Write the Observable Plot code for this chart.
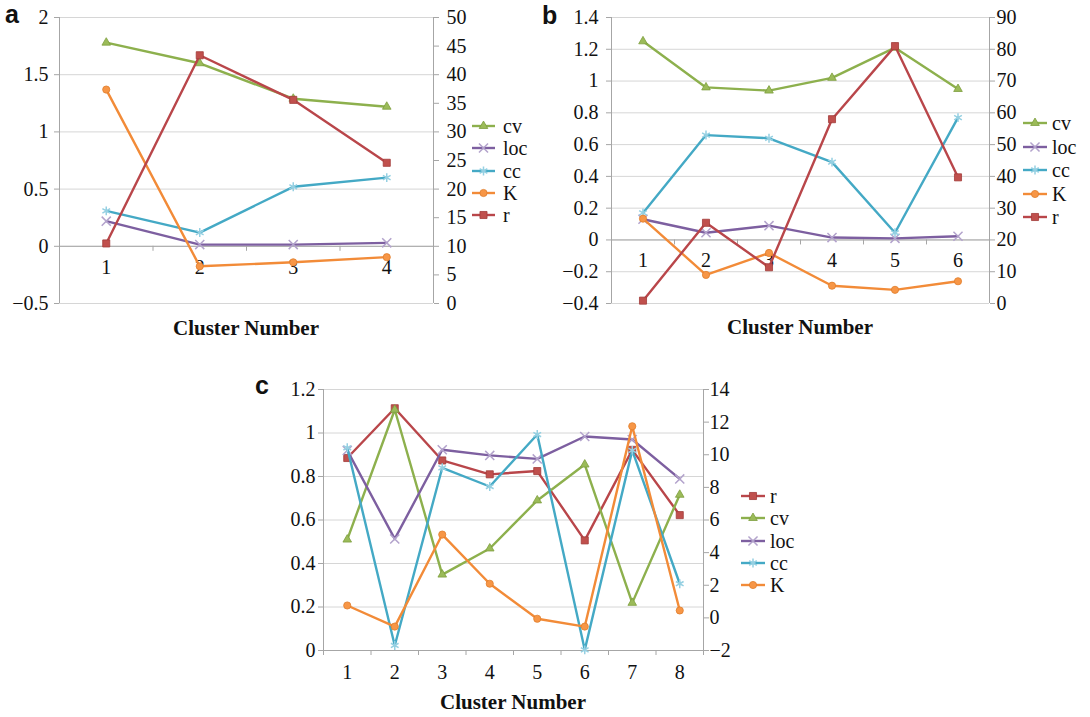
<!DOCTYPE html>
<html><head><meta charset="utf-8">
<script src="https://cdn.jsdelivr.net/npm/d3@7"></script>
<script src="https://cdn.jsdelivr.net/npm/@observablehq/plot@0.6"></script>
<style>
body{margin:0;background:#fff;}
#root{position:relative;width:1090px;height:717px;overflow:hidden;font-family:"Liberation Serif","Times New Roman",serif;color:#111;}
#root svg, #root svg text{font-family:"Liberation Serif","Times New Roman",serif !important;}
.panel{position:absolute;}
.letter{position:absolute;font-family:"Liberation Sans",Arial,sans-serif;font-weight:bold;font-size:25px;line-height:1;}
.xlabel{position:absolute;font-weight:bold;font-size:21px;transform:translateX(-50%);white-space:nowrap;line-height:1;}
.legend{position:absolute;font-size:20px;line-height:1;}
.legend .row{display:flex;align-items:center;}
.legend svg{display:block;}
</style></head><body><div id="root"></div>
<script>
// ---------- DATA ----------
// Panel a
const aClusters = [1, 2, 3, 4];
const aCv  = [1.78, 1.60, 1.29, 1.22];
const aLoc = [0.22, 0.015, 0.015, 0.03];
const aCc  = [0.31, 0.12, 0.52, 0.60];
const aK   = [37.4, 6.5, 7.2, 8.1];      // right axis
const aR   = [10.5, 43.4, 35.6, 24.6];   // right axis
const aLeftTicks  = [-0.5, 0, 0.5, 1, 1.5, 2];
const aRightTicks = [0, 5, 10, 15, 20, 25, 30, 35, 40, 45, 50];

// Panel b
const bClusters = [1, 2, 3, 4, 5, 6];
const bCv  = [1.25, 0.96, 0.94, 1.02, 1.21, 0.95];
const bLoc = [0.13, 0.045, 0.09, 0.015, 0.01, 0.023];
const bCc  = [0.17, 0.66, 0.64, 0.49, 0.045, 0.77];
const bK   = [26.7, 9.0, 15.9, 5.6, 4.3, 7.0];      // right axis
const bR   = [0.9, 25.4, 11.4, 58.0, 81.0, 39.7];   // right axis
const bLeftTicks  = [-0.4, -0.2, 0, 0.2, 0.4, 0.6, 0.8, 1, 1.2, 1.4];
const bRightTicks = [0, 10, 20, 30, 40, 50, 60, 70, 80, 90];

// Panel c
const cClusters = [1, 2, 3, 4, 5, 6, 7, 8];
const cR   = [9.8, 12.85, 9.65, 8.8, 9.0, 4.75, 10.3, 6.3];   // right axis
const cCv  = [0.51, 1.107, 0.349, 0.469, 0.69, 0.855, 0.219, 0.716];
const cLoc = [0.92, 0.513, 0.923, 0.897, 0.881, 0.984, 0.97, 0.789];
const cCc  = [0.932, 0.023, 0.84, 0.754, 0.993, 0.003, 0.92, 0.307];
const cK   = [0.207, 0.11, 0.533, 0.307, 0.146, 0.11, 1.031, 0.184];
const cLeftTicks  = [0, 0.2, 0.4, 0.6, 0.8, 1, 1.2];
const cRightTicks = [-2, 0, 2, 4, 6, 8, 10, 12, 14];

// ---------- STYLES ----------
const FONT = "Liberation Serif";
const STYLE = {
  cv:  {color:"#8db04d", symbol:"triangle", r:3.2, fill:"#9bbb59", mstroke:"#7d9e3e", msw:0.8},
  loc: {color:"#7d5fa0", symbol:"times",    r:4.2, fill:"none",    mstroke:"#b3a3cc", msw:1.5},
  cc:  {color:"#44a9c5", symbol:"asterisk", r:4.2, fill:"none",    mstroke:"#95d0e2", msw:1.5},
  K:   {color:"#f28b38", symbol:"circle",   r:3.6, fill:"#f79646", mstroke:"#e07d2c", msw:0.8},
  r:   {color:"#b9464a", symbol:"square",   r:4.0, fill:"#c0504d", mstroke:"#a23c3a", msw:0.8}
};
const SYM = {triangle:d3.symbolTriangle, times:d3.symbolTimes, asterisk:d3.symbolAsterisk, circle:d3.symbolCircle, square:d3.symbolSquare};

function mk(name, values, axis) { return Object.assign({name, values, axis}, STYLE[name]); }

function fmt(v) {
  const x = Math.round(v * 1000) / 1000;
  return x < 0 ? "\u2212" + Math.abs(x) : String(x);
}

const root = document.getElementById("root");

function drawPanel(cfg) {
  const {clusters, series, leftDomain, leftTicks, rightDomain, rightTicks, pos, m, xPad, lPad, rPad} = cfg;
  const [l0, l1] = leftDomain, [r0, r1] = rightDomain;
  const toLeft = v => l0 + (v - r0) * (l1 - l0) / (r1 - r0);
  const fromLeft = v => r0 + (v - l0) * (r1 - r0) / (l1 - l0);
  const n = clusters.length;
  const plotH = pos.h - m.top - m.bottom;
  const zeroDy = -plotH * (0 - l0) / (l1 - l0);
  const bounds = d3.range(n + 1).map(i => i + 0.5);
  const axisGray = "#a6a6a6";
  const txt = {fill: "#111", fontFamily: FONT, fontSize: 20, fontVariant: "normal"};
  const marks = [
    Plot.gridY({ticks: leftTicks, stroke: "#d6d6d6", strokeOpacity: 1}),
    Plot.ruleY([0], {stroke: axisGray}),
    Plot.ruleX([0.5, n + 0.5], {stroke: axisGray}),
    Plot.axisY({anchor: "left", ticks: leftTicks, tickSize: 5, tickPadding: lPad, tickFormat: fmt, stroke: axisGray, label: null, ...txt}),
    Plot.axisY({anchor: "right", ticks: rightTicks.map(toLeft), tickSize: 5, tickPadding: rPad, tickFormat: d => fmt(fromLeft(d)), stroke: axisGray, label: null, ...txt}),
    Plot.axisX({anchor: "bottom", ticks: bounds, tickSize: 5, tickFormat: () => "", stroke: axisGray, dy: zeroDy, label: null}),
    Plot.axisX({anchor: "bottom", ticks: clusters, tickSize: 0, tickPadding: xPad, tickFormat: d => String(d), dy: zeroDy, label: null, ...txt})
  ];
  for (const s of series) {
    const data = clusters.map((c, i) => ({cluster: c, value: s.axis === "right" ? toLeft(s.values[i]) : s.values[i]}));
    marks.push(Plot.line(data, {x: "cluster", y: "value", stroke: s.color, strokeWidth: 2.4}));
    marks.push(Plot.dot(data, {x: "cluster", y: "value", symbol: s.symbol, r: s.r, fill: s.fill, stroke: s.mstroke, strokeWidth: s.msw}));
  }
  const svg = Plot.plot({
    width: pos.w, height: pos.h,
    marginTop: m.top, marginRight: m.right, marginBottom: m.bottom, marginLeft: m.left,
    x: {domain: [0.5, n + 0.5], label: null},
    y: {domain: [l0, l1], label: null},
    style: {fontFamily: FONT, fontSize: "20px", background: "transparent", overflow: "visible", color: "#111"},
    marks
  });
  const holder = document.createElement("div");
  holder.className = "panel";
  holder.style.left = pos.x + "px";
  holder.style.top = pos.y + "px";
  holder.appendChild(svg);
  root.appendChild(holder);

  // panel letter
  const L = document.createElement("div");
  L.className = "letter";
  L.textContent = cfg.letter.text;
  L.style.left = cfg.letter.x + "px";
  L.style.top = cfg.letter.y + "px";
  root.appendChild(L);

  // x label
  const X = document.createElement("div");
  X.className = "xlabel";
  X.textContent = "Cluster Number";
  X.style.left = (pos.x + m.left + (pos.w - m.left - m.right) / 2) + "px";
  X.style.top = cfg.xLabelTop + "px";
  root.appendChild(X);

  // legend
  const lg = cfg.legend;
  const leg = d3.select(root).append("div").attr("class", "legend")
    .style("left", lg.x + "px").style("top", (lg.y - lg.rowH / 2) + "px");
  for (const s of series) {
    const row = leg.append("div").attr("class", "row").style("height", lg.rowH + "px");
    const sv = row.append("svg").attr("width", lg.lineW).attr("height", 14).style("margin-right", lg.gap + "px");
    sv.append("line").attr("x1", 0).attr("x2", lg.lineW).attr("y1", 7).attr("y2", 7)
      .attr("stroke", s.color).attr("stroke-width", 2.4);
    sv.append("path").attr("d", d3.symbol(SYM[s.symbol], s.r * s.r * Math.PI)())
      .attr("transform", `translate(${lg.lineW / 2},7)`)
      .attr("fill", s.fill).attr("stroke", s.mstroke).attr("stroke-width", s.msw);
    row.append("span").text(s.name);
  }
}

drawPanel({
  clusters: aClusters,
  series: [mk("cv", aCv, "left"), mk("loc", aLoc, "left"), mk("cc", aCc, "left"), mk("K", aK, "right"), mk("r", aR, "right")],
  leftDomain: [-0.5, 2], leftTicks: aLeftTicks, rightDomain: [0, 50], rightTicks: aRightTicks,
  pos: {x: 0, y: 0, w: 540, h: 340},
  m: {top: 17, right: 107, bottom: 37, left: 59},
  xPad: 13, lPad: 6, rPad: 8,
  letter: {text: "a", x: 5, y: 2},
  xLabelTop: 318,
  legend: {x: 472, y: 126, rowH: 22.3, lineW: 23, gap: 8}
});

drawPanel({
  clusters: bClusters,
  series: [mk("cv", bCv, "left"), mk("loc", bLoc, "left"), mk("cc", bCc, "left"), mk("K", bK, "right"), mk("r", bR, "right")],
  leftDomain: [-0.4, 1.4], leftTicks: bLeftTicks, rightDomain: [0, 90], rightTicks: bRightTicks,
  pos: {x: 540, y: 0, w: 550, h: 340},
  m: {top: 17, right: 101, bottom: 37, left: 71},
  xPad: 13, lPad: 8, rPad: 2,
  letter: {text: "b", x: 542, y: 3},
  xLabelTop: 317,
  legend: {x: 1023, y: 123, rowH: 23.5, lineW: 24, gap: 5}
});

drawPanel({
  clusters: cClusters,
  series: [mk("r", cR, "right"), mk("cv", cCv, "left"), mk("loc", cLoc, "left"), mk("cc", cCc, "left"), mk("K", cK, "left")],
  leftDomain: [0, 1.2], leftTicks: cLeftTicks, rightDomain: [-2, 14], rightTicks: cRightTicks,
  pos: {x: 250, y: 370, w: 600, h: 347},
  m: {top: 19, right: 147, bottom: 67, left: 73},
  xPad: 14, lPad: 3, rPad: 1,
  letter: {text: "c", x: 255, y: 373},
  xLabelTop: 692,
  legend: {x: 741, y: 496, rowH: 22.3, lineW: 24, gap: 5}
});
</script>
</body></html>
